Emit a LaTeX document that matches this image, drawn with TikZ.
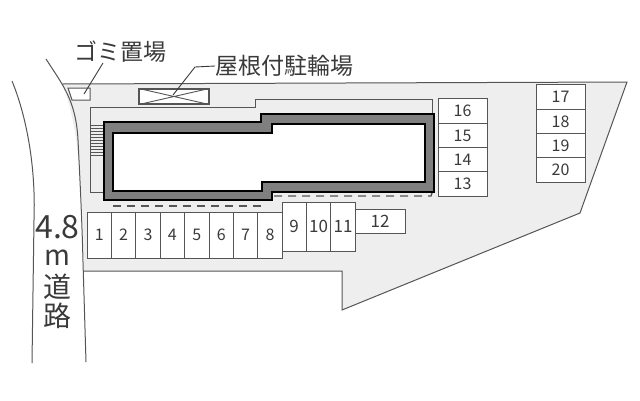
\documentclass[tikz,border=0pt]{standalone}
\usepackage{fontspec}
\setmainfont{Noto Sans CJK JP}
\definecolor{lot}{HTML}{EEEEEE}
\definecolor{wall}{HTML}{7F7F7F}
\definecolor{ink}{HTML}{3A3A3A}
\definecolor{edge}{HTML}{555555}
\tikzset{
  stall/.style={draw=edge,line width=1pt,fill=white,inner sep=0pt,text=ink,font=\fontsize{16}{16}\selectfont},
  callout/.style={text=ink,inner sep=0pt,font=\fontsize{23}{23}\selectfont},
  roadtext/.style={text=ink,inner sep=0pt,font=\fontsize{28}{28}\selectfont},
  thin line/.style={draw=edge,line width=1pt},
  leader/.style={draw=ink,line width=0.9pt}
}
\newcommand{\stalltext}[1]{\raisebox{-2pt}{#1}}
\begin{document}
\begin{tikzpicture}[x=1pt,y=-1pt]
\useasboundingbox (0,0) rectangle (640,400);
% lot
\fill[lot] (62,84) -- (627,82) -- (580,213) -- (342,310) -- (342,271) -- (84,271)
  .. controls (83,220) and (82,130) .. (62,84) -- cycle;
\draw[thin line] (62,84) -- (627,82) -- (580,213) -- (342,310) -- (342,271) -- (84,271);
% road
\draw[thin line] (46,59) .. controls (62,84) and (76,100) .. (78,140) .. controls (80,180) and (82,220) .. (83,262) -- (86,362);
\draw[thin line] (12,81) .. controls (26,115) and (36,165) .. (34,220) -- (32,363);
% porch outline
\draw[thin line] (104,192) -- (90,192) -- (90,107) -- (255,107) -- (255,99) -- (432,99) -- (432,114);
% stairs
\foreach \yy in {125,128,131,134,137,140,143,146,149,152,155}
  \draw[edge,line width=0.8pt] (91,\yy) -- (104,\yy);
% dashes
\draw[edge,line width=1.3pt,dash pattern=on 8pt off 6pt] (113,206) -- (264,206);
\draw[edge,line width=1.3pt,dash pattern=on 8pt off 6pt] (274,196) -- (431,196) -- (433,190);
% building
\draw[black,line width=1.5pt,fill=wall]
  (104,122) -- (261,122) -- (261,114) -- (434,114) -- (434,192) -- (272,192) -- (272,200) -- (104,200) -- cycle;
\draw[black,line width=1.5pt,fill=white]
  (113,133) -- (272,133) -- (272,124) -- (425,124) -- (425,182) -- (262,182) -- (262,191) -- (113,191) -- cycle;
% bike shelter
\node[draw=edge,line width=1.2pt,fill=white,minimum width=70pt,minimum height=15pt,inner sep=0pt] (shelter) at (174,96.5) {};
\draw[edge,line width=0.9pt] (shelter.north west) -- (shelter.south east) (shelter.south west) -- (shelter.north east);
% garbage box
\draw[edge,line width=1pt,fill=white] (68,88) -- (90,88) -- (90,100) -- (72,100) -- cycle;
\coordinate (gomiend) at (84,94);
\coordinate (shelterend) at (173,95);
\coordinate (bend) at (195,67);
% stalls 1-8
\foreach \n [count=\i from 0] in {1,...,8}
  \node[stall,minimum width=24.4pt,minimum height=46pt] (p\n) at ({99.2+24.4*\i},235) {\stalltext{\n}};
% stalls 9-11
\foreach \n [count=\i from 0] in {9,10,11}
  \node[stall,font=\fontsize{17}{17}\selectfont,minimum width=24.4pt,minimum height=49pt] (p\n) at ({294.2+24.4*\i},226.5) {\n};
\node[stall,font=\fontsize{17}{17}\selectfont,minimum width=50pt,minimum height=24pt] (p12) at (380,221) {12};
% stalls 13-16
\foreach \n/\yy in {16/111.1,15/135.4,14/159.6,13/183.9}
  \node[stall,minimum width=49pt,minimum height=24.25pt] (p\n) at (462.5,\yy) {\stalltext{\n}};
% stalls 17-20
\foreach \n/\yy in {17/97.1,18/121.4,19/145.6,20/169.9}
  \node[stall,minimum width=49pt,minimum height=24.25pt] (p\n) at (560.5,\yy) {\stalltext{\n}};
% labels
\node[callout] (gomi) at (120.5,52) {ゴミ置場};
\node[callout,anchor=west] (roof) at (215,66) {屋根付駐輪場};
\draw[leader] (103,63) -- (gomiend);
\draw[leader] (roof.west) -- (bend) -- (shelterend);
\node[roadtext,font=\fontsize{32}{32}\selectfont] (width) at (57.5,227) {4.8};
\node[roadtext] (unit) at (57.5,258) {m};
\node[roadtext] (michi) at (57.5,287) {道};
\node[roadtext] (ro) at (57.5,316) {路};
\end{tikzpicture}
\end{document}
